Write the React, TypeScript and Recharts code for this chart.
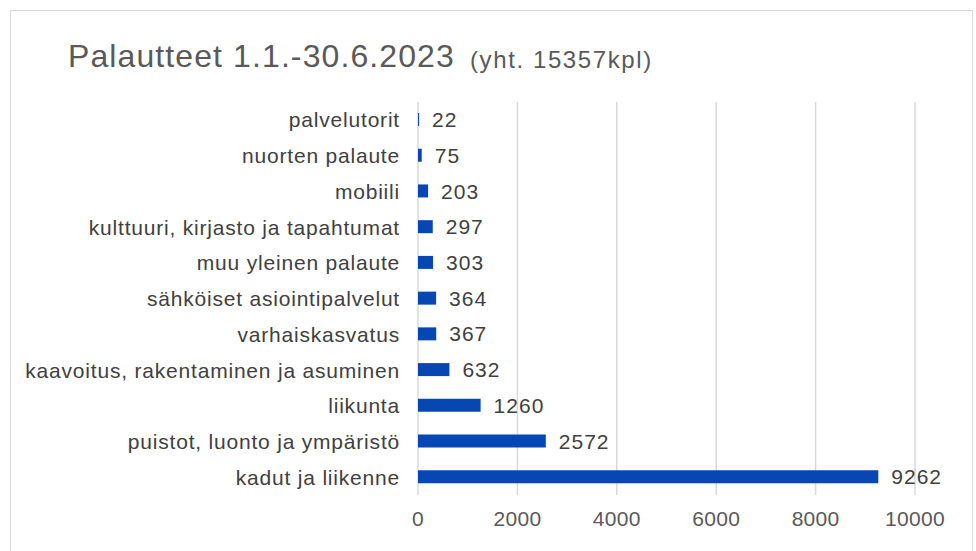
import { Bar, BarChart, CartesianGrid, LabelList, XAxis, YAxis } from "recharts";

const categories = [
  "palvelutorit",
  "nuorten palaute",
  "mobiili",
  "kulttuuri, kirjasto ja tapahtumat",
  "muu yleinen palaute",
  "sähköiset asiointipalvelut",
  "varhaiskasvatus",
  "kaavoitus, rakentaminen ja asuminen",
  "liikunta",
  "puistot, luonto ja ympäristö",
  "kadut ja liikenne",
];
const counts = [22, 75, 203, 297, 303, 364, 367, 632, 1260, 2572, 9262];
const xTicks = [0, 2000, 4000, 6000, 8000, 10000];

const font = "'Liberation Sans', Arial, sans-serif";

const CategoryTick = ({ x, y, payload }: any) => (
  <text x={x} y={y} dy="0.36em" textAnchor="end" fill="#404040" fontSize={21} fontFamily={font} letterSpacing={0.8}>
    {payload.value}
  </text>
);

const ValueTick = ({ x, y, payload }: any) => (
  <text x={x} y={y} dy="0.71em" textAnchor="middle" fill="#595959" fontSize={21} fontFamily={font} letterSpacing={0.3}>
    {payload.value}
  </text>
);

const BarValue = ({ x, y, width, height, value }: any) => (
  <text
    x={Number(x) + Number(width) + 13}
    y={Number(y) + Number(height) / 2}
    dy="0.36em"
    fill="#404040"
    fontSize={21}
    fontFamily={font}
    letterSpacing={1}
  >
    {value}
  </text>
);

export default function App() {
  const data = categories.map((name, i) => ({ name, count: counts[i] }));

  return (
    <div style={{ position: "fixed", left: 0, top: 0, width: 976, height: 551, overflow: "hidden", background: "#fff" }}>
      <div
        style={{
          position: "absolute",
          left: 10,
          top: 10,
          width: 963,
          height: 580,
          boxSizing: "border-box",
          border: "1px solid #d9d9d9",
        }}
      />
      <svg width={976} height={100} style={{ position: "absolute", left: 0, top: 0 }}>
        <text x={68} y={67} fill="#595959" fontSize={32} fontFamily={font} letterSpacing={1.1}>
          Palautteet 1.1.-30.6.2023
        </text>
        <text x={470} y={68} fill="#595959" fontSize={24} fontFamily={font} letterSpacing={1.6}>
          (yht. 15357kpl)
        </text>
      </svg>
      <div style={{ position: "absolute", left: 0, top: 0 }}>
        <BarChart
          width={976}
          height={551}
          layout="vertical"
          data={data}
          margin={{ top: 102, right: 61, bottom: 0, left: 0 }}
        >
          <CartesianGrid horizontal={false} stroke="#d9d9d9" strokeWidth={1.5} />
          <XAxis
            type="number"
            domain={[0, 10000]}
            ticks={xTicks}
            height={56}
            axisLine={false}
            tickLine={false}
            tick={<ValueTick />}
            tickMargin={10}
          />
          <YAxis
            type="category"
            dataKey="name"
            width={418}
            axisLine={false}
            tickLine={false}
            tick={<CategoryTick />}
            tickMargin={12}
            interval={0}
          />
          <Bar dataKey="count" fill="#0747b4" barSize={13} isAnimationActive={false}>
            <LabelList dataKey="count" content={<BarValue />} />
          </Bar>
        </BarChart>
      </div>
    </div>
  );
}
